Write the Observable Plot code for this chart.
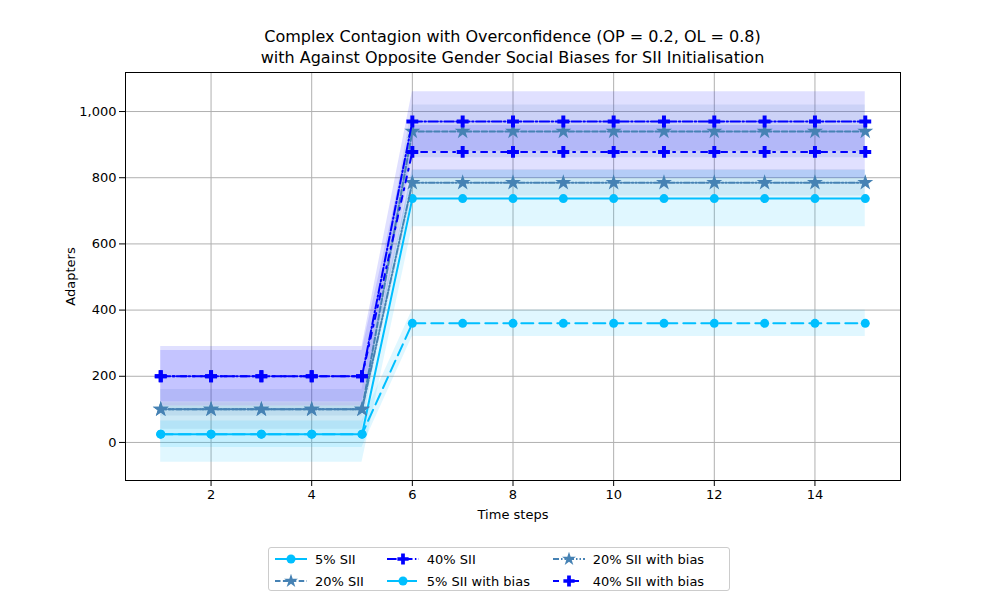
<!DOCTYPE html>
<html><head><meta charset="utf-8">
<script src="https://cdn.jsdelivr.net/npm/d3@7"></script>
<script src="https://cdn.jsdelivr.net/npm/@observablehq/plot@0.6"></script>
<style>
body{margin:0;font-family:"DejaVu Sans",sans-serif;background:#fff}
#wrap{position:relative;width:1000px;height:600px}
#title{position:absolute;top:26px;left:125px;width:775px;text-align:center;font-size:16px;line-height:21px;color:#000}
#legend{position:absolute;top:547px;left:268px;width:462px;height:44px;border:1px solid #ccc;border-radius:3px;display:grid;grid-template-columns:auto auto auto;grid-template-rows:22px 22px;grid-auto-flow:column;font-size:13px;align-items:center;padding:0 4px;box-sizing:border-box;background:#fff}
#legend div{display:flex;align-items:center;gap:6px;white-space:nowrap}
</style></head><body>
<div id="wrap"><div id="plot"></div>
<div id="title">Complex Contagion with Overconfidence (OP = 0.2, OL = 0.8)<br>with Against Opposite Gender Social Biases for SII Initialisation</div>
<div id="legend"></div></div>
<script>
const steps = [1,2,3,4,5,6,7,8,9,10,11,12,13,14,15];
const names = ["5% SII","20% SII","40% SII","5% SII with bias","20% SII with bias","40% SII with bias"];
const colors = ["#00bfff","#4682b4","#0000ff","#00bfff","#4682b4","#0000ff"];
const symbols = ["circle","star","cross","circle","star","cross"];
const dashes = ["none","5.5,2.4","9.6,2.4,1.5,2.4","12,6","6,2,1.5,2,1.5,2","6,6,2,6"];
const earlyMean = [25,100,200,25,100,200];
const lateMean = [737,940,970,360,785,878];
const earlySpread = [85,60,90,40,20,78];
const lateSpread = [85,80,90,40,40,80];

const rows = [];
names.forEach((n,i)=>steps.forEach(t=>{
  const early = t<=5;
  const m = early?earlyMean[i]:lateMean[i];
  const s = early?earlySpread[i]:lateSpread[i];
  rows.push({series:n, idx:i, t, y:m, lo:m-s, hi:m+s});
}));
const marks = [Plot.frame({stroke:"#000"})];
names.forEach((n,i)=>{
  const d = rows.filter(r=>r.idx===i);
  marks.push(Plot.areaY(d,{x:"t",y1:"lo",y2:"hi",fill:colors[i],fillOpacity:0.12}));
});
names.forEach((n,i)=>{
  const d = rows.filter(r=>r.idx===i);
  marks.push(Plot.line(d,{x:"t",y:"y",stroke:colors[i],strokeWidth:2,strokeDasharray:dashes[i]}));
  marks.push(Plot.dot(d,{x:"t",y:"y",fill:colors[i],symbol:()=>symbols[i],r:symbols[i]==="circle"?4.5:5}));
});
const chart = Plot.plot({
  width:1000,height:600,marginLeft:125,marginRight:100,marginTop:72,marginBottom:120,
  style:{fontFamily:"DejaVu Sans",fontSize:"13px",color:"#000"},
  x:{domain:[0.3,15.7],ticks:[2,4,6,8,10,12,14],grid:true,label:"Time steps",labelAnchor:"center",labelArrow:"none",labelOffset:38},
  y:{domain:[-115,1118],ticks:[0,200,400,600,800,1000],grid:true,label:"Adapters",labelAnchor:"center",labelArrow:"none",labelOffset:60},
  marks
});
chart.querySelectorAll("g[aria-label$='grid'] line, g[aria-label$='grid'] path").forEach(e=>{e.setAttribute("stroke","#b0b0b0");e.setAttribute("stroke-opacity","1");});
document.getElementById("plot").appendChild(chart);
const shapes = {circle:'<circle cx="18" cy="7" r="4.5" fill="C"/>', star:d3.symbol(d3.symbolStar,60)(), cross:d3.symbol(d3.symbolCross,70)()};
const leg = document.getElementById("legend");
names.forEach((n,i)=>{
  const s = symbols[i];
  const sym = s==="circle"?shapes.circle.replace("C",colors[i]):`<path transform="translate(18,7)" d="${shapes[s]}" fill="${colors[i]}"/>`;
  const el = document.createElement("div");
  el.innerHTML = `<svg width="36" height="14"><line x1="2" y1="7" x2="34" y2="7" stroke="${colors[i]}" stroke-width="2" stroke-dasharray="${dashes[i]}"/>${sym}</svg><span>${n}</span>`;
  leg.appendChild(el);
});
</script></body></html>
